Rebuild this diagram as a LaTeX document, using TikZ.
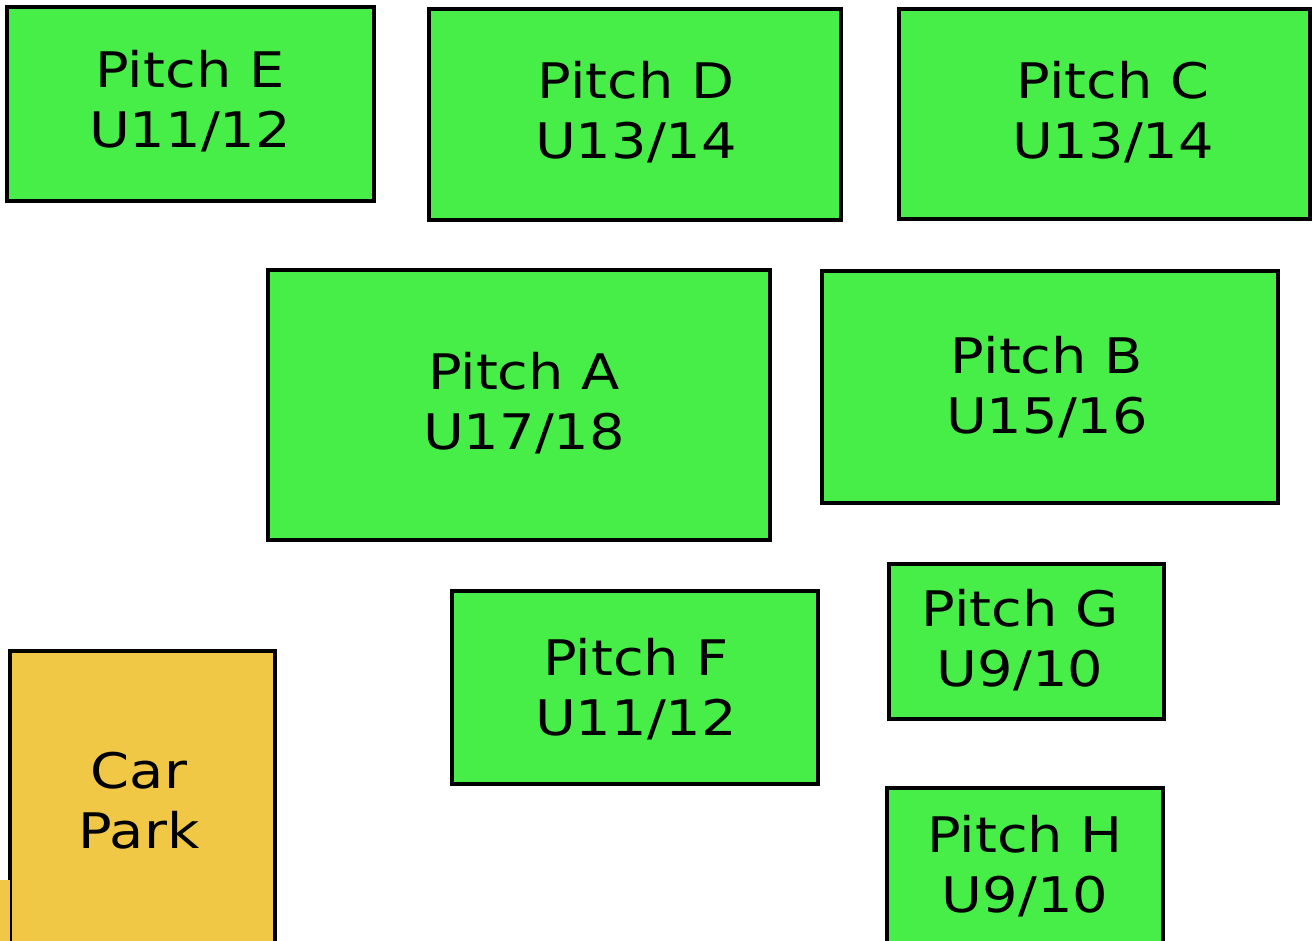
\documentclass[tikz,border=0pt]{standalone}
\usepackage{fontspec}
\setmainfont{DejaVu Sans}
\newfontfamily\widefont[FakeStretch=1.14]{DejaVu Sans}
\definecolor{pitchgreen}{RGB}{72,238,72}
\definecolor{carorange}{RGB}{240,200,70}
\begin{document}
\begin{tikzpicture}[x=1pt,y=-1pt,
  pitch/.style={draw=black,line width=3.5pt,fill=pitchgreen,rectangle,inner sep=0pt},
  park/.style={draw=black,line width=3.5pt,fill=carorange,rectangle,inner sep=0pt},
  lbl/.style={align=center,font=\widefont\fontsize{49}{60}\selectfont,inner sep=0pt}]
\useasboundingbox (0,0) rectangle (1316,941);
\clip (0,0) rectangle (1316,941);
\fill[white] (0,0) rectangle (1316,941);
% pitches
\node[pitch,minimum width=367pt,minimum height=194pt] (E) at (190.5,104) {};
\node[lbl] (Et) at (190,101) {Pitch E\\U11/12};
\node[pitch,minimum width=412pt,minimum height=211pt] (D) at (635,114.5) {};
\node[lbl] (Dt) at (636,112) {Pitch D\\U13/14};
\node[pitch,minimum width=411pt,minimum height=210pt] (C) at (1104.5,114) {};
\node[lbl] (Ct) at (1113,112) {Pitch C\\U13/14};
\node[pitch,minimum width=502pt,minimum height=270pt] (A) at (519,405) {};
\node[lbl] (At) at (524,403) {Pitch A\\U17/18};
\node[pitch,minimum width=456pt,minimum height=232pt] (B) at (1050,387) {};
\node[lbl] (Bt) at (1047,387) {Pitch B\\U15/16};
\node[pitch,minimum width=366pt,minimum height=193pt] (F) at (635,687.5) {};
\node[lbl] (Ft) at (636,689) {Pitch F\\U11/12};
\node[pitch,minimum width=275pt,minimum height=155pt] (G) at (1026.5,641.5) {};
\node[lbl] (Gt) at (1020,640) {Pitch G\\U9/10};
\node[pitch,minimum width=276pt,minimum height=180pt] (H) at (1025,878) {};
\node[lbl] (Ht) at (1025,866) {Pitch H\\U9/10};
% car park
\node[park,minimum width=265pt,minimum height=320pt] (CP) at (142.5,811) {};
\node[lbl] (CPt) at (139,801) {Car\\Park};
% clipped orange sliver at bottom-left
\fill[carorange] (0,880) rectangle (10,941);
\end{tikzpicture}
\end{document}
